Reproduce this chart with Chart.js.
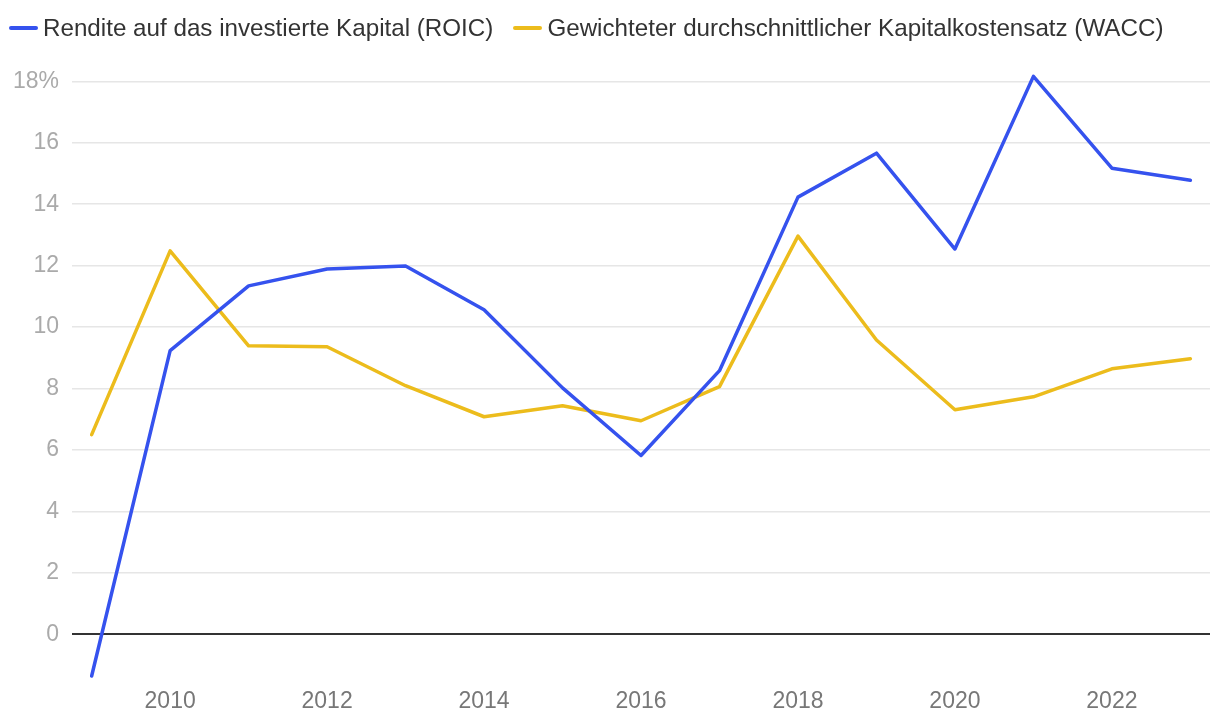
<!DOCTYPE html>
<html>
    <head>
        <meta charset="UTF-8">
        <title>ROIC vs WACC</title>
        <script src="https://cdn.jsdelivr.net/npm/chart.js"></script>
        <style>
            body { margin: 0; background: #fff; font-family: "Liberation Sans", Arial, sans-serif; }
            #wrap { position: relative; width: 1220px; height: 722px; }
            #legend { position: absolute; left: 9px; top: 14px; display: flex; font-size: 24.2px; color: #333; }
            .item { display: flex; align-items: center; margin-right: 20px; }
            .swatch { width: 29px; height: 4px; border-radius: 2px; margin-right: 5px; }
        </style>
    </head>
    <body>
        <div id="wrap">
            <div id="legend"></div>
            <canvas id="chart" width="1220" height="722"></canvas>
        </div>
        <script>
            const years = [2009, 2010, 2011, 2012, 2013, 2014, 2015, 2016, 2017, 2018, 2019, 2020, 2021, 2022, 2023];
            const roic = [-1.36, 9.23, 11.34, 11.89, 11.99, 10.56, 8.02, 5.82, 8.58, 14.23, 15.66, 12.54, 18.16, 15.17, 14.78];
            const wacc = [6.50, 12.48, 9.39, 9.36, 8.09, 7.08, 7.44, 6.95, 8.06, 12.96, 9.58, 7.31, 7.73, 8.64, 8.97];
            const xTicks = [2010, 2012, 2014, 2016, 2018, 2020, 2022];
            const yTicks = [0, 2, 4, 6, 8, 10, 12, 14, 16, 18];

            const series = [
                { label: 'Rendite auf das investierte Kapital (ROIC)', data: roic, color: '#3552ee' },
                { label: 'Gewichteter durchschnittlicher Kapitalkostensatz (WACC)', data: wacc, color: '#ecbc1c' }
            ];

            const legend = document.getElementById('legend');
            for (let s of series) {
                legend.innerHTML += '<div class="item"><span class="swatch" style="background:' + s.color + '"></span>' + s.label + '</div>';
            }

            Chart.defaults.font.family = '"Liberation Sans", Arial, sans-serif';
            Chart.defaults.font.size = 23;

            new Chart(document.getElementById('chart'), {
                type: 'line',
                data: {
                    datasets: series.map(s => ({
                        label: s.label,
                        data: years.map((y, i) => ({ x: y, y: s.data[i] })),
                        borderColor: s.color,
                        borderWidth: 3.5,
                        pointRadius: 0,
                        tension: 0,
                        borderCapStyle: 'round',
                        borderJoinStyle: 'round'
                    }))
                },
                options: {
                    responsive: false,
                    animation: false,
                    layout: { padding: { left: 0, right: 10, top: 69, bottom: 3 } },
                    plugins: { legend: { display: false }, tooltip: { enabled: false } },
                    scales: {
                        x: {
                            type: 'linear',
                            min: 2008.75,
                            max: 2023.25,
                            afterBuildTicks: (axis) => { axis.ticks = xTicks.map(v => ({ value: v })); },
                            grid: { display: false, drawTicks: false },
                            border: { display: false },
                            ticks: { color: '#777', padding: 4, maxRotation: 0, callback: (v) => String(v) }
                        },
                        y: {
                            min: -1.6,
                            max: 18.4,
                            afterBuildTicks: (axis) => { axis.ticks = yTicks.map(v => ({ value: v })); },
                            grid: {
                                drawTicks: false,
                                color: (ctx) => ctx.tick && ctx.tick.value === 0 ? '#333' : '#e6e6e6',
                                lineWidth: (ctx) => ctx.tick && ctx.tick.value === 0 ? 2 : 1.5
                            },
                            border: { display: false },
                            ticks: { color: '#aaa', padding: 13, callback: (v) => v === 18 ? '18%' : String(v) }
                        }
                    }
                }
            });
        </script>
    </body>
</html>
